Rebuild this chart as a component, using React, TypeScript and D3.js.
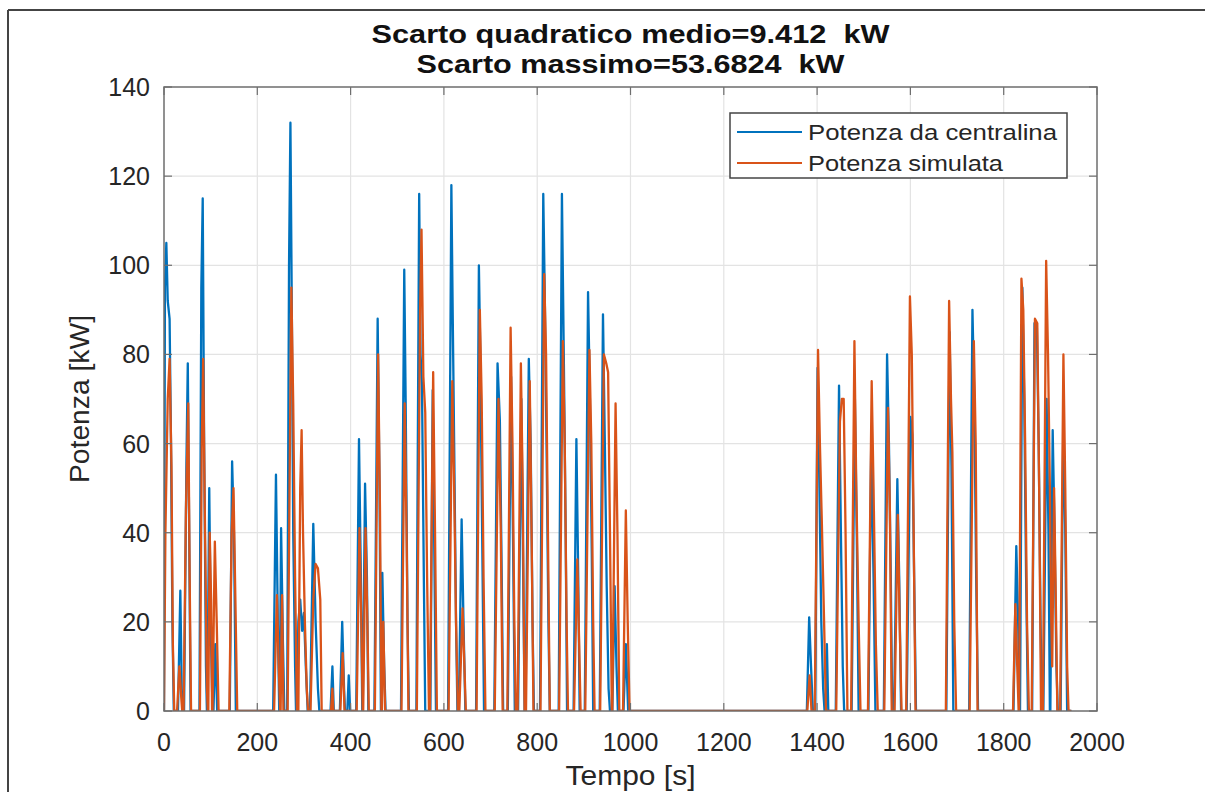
import React from "react";
import * as d3 from "d3";

// ---- data (time [s], power [kW]) ----
const xTicks = [0, 200, 400, 600, 800, 1000, 1200, 1400, 1600, 1800, 2000];
const yTicks = [0, 20, 40, 60, 80, 100, 120, 140];
const titleLines = ["Scarto quadratico medio=9.412  kW", "Scarto massimo=53.6824  kW"];
const seriesNames = ["Potenza da centralina", "Potenza simulata"];

const potenzaCentralina: [number, number][] = [
  [0,0],[2,95],[5,105],[8,92],[12,88],[15,60],[18,20],[21,0],
  [30,0],[35,27],[38,5],[40,0],
  [43,0],[48,55],[51,78],[54,40],[57,0],
  [76,0],[80,95],[83,115],[86,60],[90,10],[92,0],
  [93,0],[97,50],[100,20],[104,0],
  [106,0],[110,15],[114,0],
  [141,0],[146,56],[150,40],[154,0],
  [234,0],[240,53],[244,20],[247,0],
  [248,0],[251,41],[255,15],[258,0],
  [264,0],[268,100],[271,132],[274,90],[277,40],[281,10],[283,0],
  [285,0],[288,20],[292,25],[296,18],[300,22],[304,10],[308,0],
  [313,0],[320,42],[325,20],[330,5],[333,0],
  [357,0],[361,10],[364,0],
  [377,0],[382,20],[386,5],[388,0],
  [393,0],[396,8],[399,0],
  [412,0],[418,61],[422,30],[425,0],
  [426,0],[431,51],[435,30],[438,0],
  [451,0],[458,88],[462,50],[465,0],
  [466,0],[468,31],[472,10],[475,0],
  [508,0],[515,99],[518,70],[522,20],[525,0],
  [541,0],[547,116],[550,80],[553,73],[557,30],[560,0],
  [571,0],[576,72],[580,30],[583,0],
  [609,0],[616,118],[619,88],[622,60],[626,20],[629,0],
  [632,0],[638,43],[642,20],[646,0],
  [669,0],[675,100],[678,80],[682,40],[686,0],
  [708,0],[715,78],[720,65],[724,30],[727,0],
  [737,0],[744,75],[748,40],[752,0],
  [759,0],[766,70],[770,30],[773,0],
  [775,0],[782,79],[786,60],[790,20],[793,0],
  [806,0],[813,116],[816,95],[820,60],[824,20],[827,0],
  [846,0],[853,116],[857,80],[861,40],[864,0],
  [878,0],[884,61],[888,30],[891,0],
  [902,0],[909,94],[913,70],[917,35],[920,0],
  [934,0],[941,89],[945,60],[949,28],[953,5],[956,0],
  [961,0],[966,28],[970,10],[973,0],
  [985,0],[990,15],[995,0],
  [1378,0],[1383,21],[1387,10],[1391,0],
  [1396,0],[1401,77],[1405,50],[1409,20],[1413,5],[1416,0],
  [1418,0],[1421,15],[1424,0],
  [1440,0],[1447,73],[1451,40],[1455,10],[1458,0],
  [1474,0],[1481,70],[1485,40],[1489,0],
  [1510,0],[1516,60],[1521,30],[1525,0],
  [1543,0],[1550,80],[1554,60],[1558,30],[1561,0],
  [1565,0],[1572,52],[1576,30],[1580,0],
  [1592,0],[1600,66],[1604,62],[1608,30],[1612,0],
  [1677,0],[1684,85],[1688,55],[1692,0],
  [1726,0],[1733,90],[1737,70],[1741,30],[1745,0],
  [1821,0],[1827,37],[1831,20],[1834,0],
  [1835,0],[1840,95],[1844,70],[1848,30],[1852,0],
  [1861,0],[1866,87],[1871,87],[1875,60],[1879,20],[1882,0],
  [1885,0],[1892,70],[1896,40],[1899,0],
  [1900,0],[1905,63],[1909,40],[1913,10],[1916,0],
  [1922,0],[1928,66],[1932,40],[1936,0],[1945,0],
];

const potenzaSimulata: [number, number][] = [
  [0,0],[3,40],[8,70],[12,79],[16,55],[19,15],[22,0],
  [28,0],[33,10],[37,3],[39,0],
  [42,0],[47,45],[52,69],[55,30],[58,0],
  [77,0],[81,60],[84,79],[88,40],[92,5],[94,0],
  [95,0],[98,40],[101,25],[103,0],
  [104,0],[109,38],[113,20],[117,0],
  [140,0],[145,40],[149,50],[153,25],[157,0],
  [236,0],[242,26],[246,10],[249,0],
  [250,0],[253,26],[256,0],
  [265,0],[270,60],[273,95],[277,69],[281,30],[285,0],
  [288,0],[292,50],[295,63],[298,40],[302,20],[306,5],[309,0],
  [314,0],[320,25],[325,33],[330,32],[335,25],[338,0],
  [358,0],[361,5],[363,0],
  [378,0],[383,13],[387,0],
  [413,0],[419,41],[423,20],[426,0],
  [427,0],[432,41],[436,20],[439,0],
  [452,0],[459,80],[463,45],[466,0],
  [467,0],[470,20],[474,0],
  [509,0],[516,69],[520,40],[524,0],
  [542,0],[549,90],[552,108],[556,75],[560,67],[564,30],[568,0],
  [570,0],[577,76],[581,40],[585,0],
  [610,0],[618,74],[622,50],[626,20],[630,0],
  [633,0],[640,23],[644,10],[647,0],
  [670,0],[677,90],[681,70],[685,30],[689,0],
  [709,0],[717,70],[722,40],[726,0],
  [736,0],[743,86],[747,60],[751,20],[754,0],
  [758,0],[765,78],[769,50],[773,0],
  [776,0],[784,74],[788,40],[792,0],
  [807,0],[815,98],[819,80],[823,40],[827,0],
  [847,0],[855,83],[859,60],[863,20],[866,0],
  [879,0],[886,34],[890,15],[893,0],
  [903,0],[912,81],[916,60],[920,20],[923,0],
  [935,0],[943,80],[948,78],[952,76],[956,40],[960,0],
  [961,0],[968,69],[972,40],[976,0],
  [984,0],[990,45],[994,20],[998,0],
  [1379,0],[1384,8],[1388,0],
  [1395,0],[1402,81],[1406,60],[1410,43],[1415,20],[1419,0],
  [1441,0],[1449,65],[1453,70],[1457,70],[1461,40],[1465,0],
  [1473,0],[1480,83],[1484,50],[1489,20],[1493,0],
  [1509,0],[1517,74],[1521,50],[1526,15],[1530,0],
  [1544,0],[1552,68],[1556,45],[1560,0],
  [1566,0],[1573,44],[1577,20],[1581,0],
  [1591,0],[1599,93],[1603,80],[1607,40],[1611,0],
  [1676,0],[1683,92],[1687,70],[1690,58],[1694,20],[1698,0],
  [1727,0],[1736,83],[1740,60],[1744,0],
  [1820,0],[1825,24],[1829,10],[1832,0],
  [1833,0],[1838,97],[1842,90],[1846,60],[1850,20],[1854,0],
  [1860,0],[1867,88],[1872,87],[1876,50],[1880,0],
  [1884,0],[1891,101],[1895,80],[1899,50],[1902,20],[1904,10],[1908,50],[1911,30],[1915,0],
  [1921,0],[1928,80],[1932,50],[1936,10],[1939,0],[1945,0],
];

const COLORS = ["#0072BD", "#D95319"];
const FONT = "'Liberation Sans', Arial, Helvetica, sans-serif";

export default function App() {
  const W = 1205, H = 792;
  const L = 164, R = 1097, T = 87, B = 711;
  const x = d3.scaleLinear().domain([0, 2000]).range([L, R]);
  const y = d3.scaleLinear().domain([0, 140]).range([B, T]);
  const line = d3.line<[number, number]>().x(d => x(d[0])).y(d => y(d[1]));
  const tickLen = 8;
  const txt = "#262626";

  return (
    <svg width={W} height={H} style={{ position: "absolute", left: 0, top: 0, background: "#fff" }} fontFamily={FONT}>
      <rect x={0} y={0} width={W} height={H} fill="#fff" />
      {/* outer frame */}
      <line x1={8} y1={10} x2={W} y2={10} stroke="#444" strokeWidth={2} />
      <line x1={8} y1={10} x2={8} y2={H} stroke="#444" strokeWidth={2} />

      {/* grid */}
      <g stroke="#e3e3e3" strokeWidth={1.2}>
        {xTicks.slice(1, -1).map(t => <line key={"gx" + t} x1={x(t)} x2={x(t)} y1={T} y2={B} />)}
        {yTicks.slice(1, -1).map(t => <line key={"gy" + t} x1={L} x2={R} y1={y(t)} y2={y(t)} />)}
      </g>

      {/* data */}
      <defs>
        <clipPath id="plotclip"><rect x={L} y={T} width={R - L} height={B - T} /></clipPath>
      </defs>
      <g clipPath="url(#plotclip)" fill="none" strokeWidth={2.3} strokeLinejoin="round">
        <path d={line(potenzaCentralina) || ""} stroke={COLORS[0]} />
        <path d={line(potenzaSimulata) || ""} stroke={COLORS[1]} />
      </g>

      {/* axes box and ticks */}
      <rect x={L} y={T} width={R - L} height={B - T} fill="none" stroke="#6e6e6e" strokeWidth={1.5} />
      <g stroke="#6e6e6e" strokeWidth={1.2}>
        {xTicks.map(t => (
          <g key={"tx" + t}>
            <line x1={x(t)} x2={x(t)} y1={B} y2={B - tickLen} />
            <line x1={x(t)} x2={x(t)} y1={T} y2={T + tickLen} />
          </g>
        ))}
        {yTicks.map(t => (
          <g key={"ty" + t}>
            <line x1={L} x2={L + tickLen} y1={y(t)} y2={y(t)} />
            <line x1={R} x2={R - tickLen} y1={y(t)} y2={y(t)} />
          </g>
        ))}
      </g>

      {/* tick labels */}
      <g fill={txt} fontSize={25}>
        {xTicks.map(t => (
          <text key={"lx" + t} x={x(t)} y={751} textAnchor="middle">{t}</text>
        ))}
        {yTicks.map(t => (
          <text key={"ly" + t} x={150} y={y(t) + 9} textAnchor="end">{t}</text>
        ))}
      </g>

      {/* axis labels */}
      <text x={(L + R) / 2} y={785} textAnchor="middle" fontSize={27} fill={txt}
        textLength={130} lengthAdjust="spacingAndGlyphs">Tempo [s]</text>
      <text transform={`translate(89, ${(T + B) / 2}) rotate(-90)`} textAnchor="middle" fontSize={27} fill={txt}
        textLength={168} lengthAdjust="spacingAndGlyphs">Potenza [kW]</text>

      {/* title */}
      <text x={(L + R) / 2} y={43} textAnchor="middle" fontSize={26} fontWeight="bold" fill="#111"
        style={{ whiteSpace: "pre" }} textLength={518} lengthAdjust="spacingAndGlyphs">{titleLines[0]}</text>
      <text x={(L + R) / 2} y={73} textAnchor="middle" fontSize={26} fontWeight="bold" fill="#111"
        style={{ whiteSpace: "pre" }} textLength={428} lengthAdjust="spacingAndGlyphs">{titleLines[1]}</text>

      {/* legend */}
      <rect x={730} y={113} width={337} height={65} fill="#fff" stroke="#444" strokeWidth={1.5} />
      {seriesNames.map((n, i) => {
        const yy = 132 + i * 31;
        return (
          <g key={n}>
            <line x1={737} x2={802} y1={yy} y2={yy} stroke={COLORS[i]} strokeWidth={2} />
            <text x={808} y={yy + 8} fontSize={22} fill={txt}
              textLength={i === 0 ? 249 : 195} lengthAdjust="spacingAndGlyphs">{n}</text>
          </g>
        );
      })}
    </svg>
  );
}
